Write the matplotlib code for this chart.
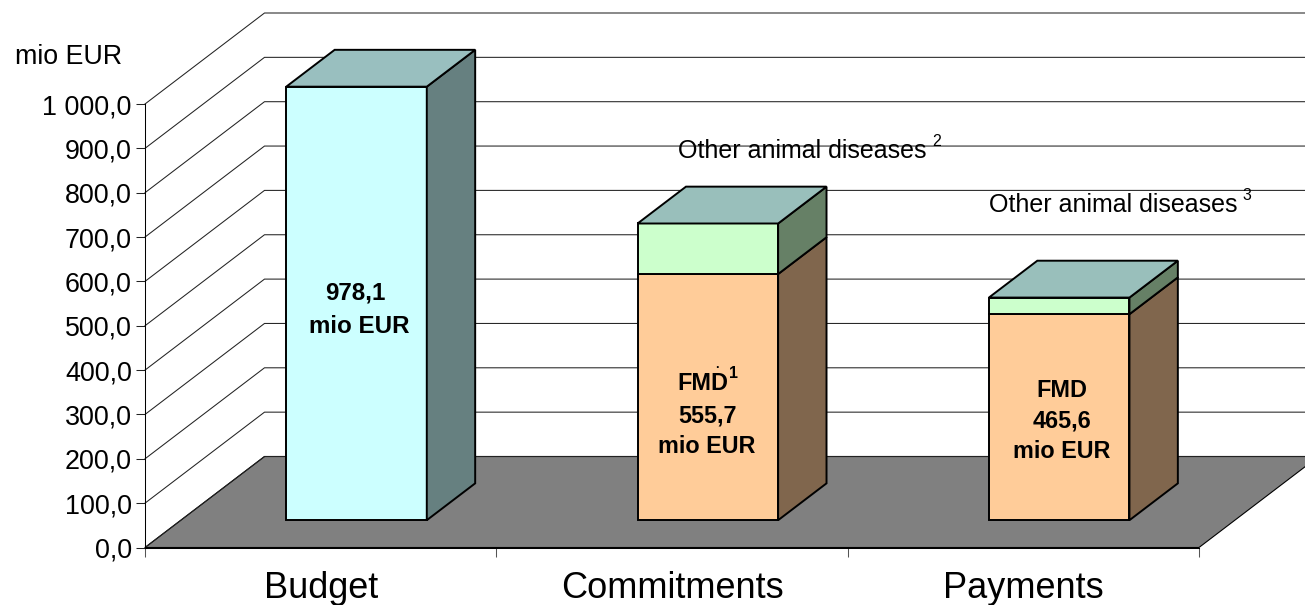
import matplotlib
matplotlib.use("Agg")
import matplotlib.pyplot as plt
from matplotlib.patches import Polygon

plt.rcParams['font.family'] = ['Liberation Sans', 'DejaVu Sans']

categories = ["Budget", "Commitments", "Payments"]
budget_total = [977.5, 0, 0]
fmd_values = [0, 555.0, 464.5]
other_values = [0, 114.0, 37.5]
y_ticks = [0, 100, 200, 300, 400, 500, 600, 700, 800, 900, 1000]
y_labels = ["0,0", "100,0", "200,0", "300,0", "400,0", "500,0", "600,0", "700,0", "800,0", "900,0", "1 000,0"]

W, H = 1305, 605
L, R, T, B = 145, 1199, 104, 547.5
DX_PX, DY_PX = 119.5, 91.0
BAR_W = 0.40
D0, D1 = 0.30, 0.705

colors = {
    "budget": ("#CCFFFF", "#99BFBF", "#668080"),
    "fmd": ("#FFCC99", None, "#80664D"),
    "other": ("#CCFFCC", "#99BFBB", "#668066"),
}

fig = plt.figure(figsize=(W / 100, H / 100), dpi=100, facecolor="white")
ax = fig.add_axes([L / W, 1 - B / H, (R - L) / W, (B - T) / H])
ax.set_xlim(0, 3)
ax.set_ylim(0, 1000)
ax.patch.set_visible(False)
for s in ("top", "right"):
    ax.spines[s].set_visible(False)
for s in ("left", "bottom"):
    ax.spines[s].set_linewidth(0.75)
    ax.spines[s].set_zorder(20)

sx = DX_PX / ((R - L) / 3)
sy = DY_PX / ((B - T) / 1000)


def proj(u, v, d=0.0):
    return (u + d * sx, v + d * sy)


# floor
ax.add_patch(Polygon([proj(0, 0), proj(3, 0), proj(3, 0, 1), proj(0, 0, 1)], closed=True,
                     facecolor="#808080", edgecolor="black", linewidth=0.8, clip_on=False, zorder=1))
# gridlines: left wall and back wall
for v in y_ticks:
    pts = [proj(0, v), proj(0, v, 1), proj(3, v, 1)]
    ax.plot([p[0] for p in pts], [p[1] for p in pts], color="#222222", lw=0.75,
            clip_on=False, zorder=2 if v else 1.5)


def face(pts, color, z):
    ax.add_patch(Polygon(pts, closed=True, facecolor=color, edgecolor="black", linewidth=1.4,
                         joinstyle="miter", clip_on=False, zorder=z))


def box(center, lo, hi, front, side, z):
    a = center - BAR_W / 2
    b = center + BAR_W / 2
    face([proj(a, lo, D0), proj(b, lo, D0), proj(b, hi, D0), proj(a, hi, D0)], front, z)
    face([proj(b, lo, D0), proj(b, lo, D1), proj(b, hi, D1), proj(b, hi, D0)], side, z)


def top(center, hi, color, z):
    a = center - BAR_W / 2
    b = center + BAR_W / 2
    face([proj(a, hi, D0), proj(b, hi, D0), proj(b, hi, D1), proj(a, hi, D1)], color, z)


centers = [i + 0.5 for i in range(len(categories))]
for c, bud, fmd, oth in zip(centers, budget_total, fmd_values, other_values):
    if bud:
        box(c, 0, bud, colors["budget"][0], colors["budget"][2], 5)
        top(c, bud, colors["budget"][1], 6)
    else:
        box(c, 0, fmd, colors["fmd"][0], colors["fmd"][2], 5)
        box(c, fmd, fmd + oth, colors["other"][0], colors["other"][2], 6)
        top(c, fmd + oth, colors["other"][1], 7)

# axes ticks and labels
ax.set_yticks(y_ticks)
ax.set_yticklabels(y_labels, fontsize=19.4, va="center_baseline")
ax.tick_params(axis="y", length=6.5, width=0.75, pad=3, color="#222222")
ax.set_xticks([0, 1, 2, 3])
ax.set_xticklabels([])
ax.tick_params(axis="x", which="major", length=6.5, width=0.75, color="#555555")
ax.set_xticks(centers, minor=True)
ax.set_xticklabels(categories, minor=True, fontsize=26)
ax.tick_params(axis="x", which="minor", length=0, pad=16.7)


def txt(x, y, s, **kw):
    fig.text(x / W, 1 - y / H, s, ha=kw.pop("ha", "center"), va=kw.pop("va", "center"), zorder=30, **kw)


txt(69, 56.5, "mio EUR", fontsize=19.3)
txt(355, 293, "978,1", fontsize=17.4, fontweight="bold")
txt(359, 326, "mio EUR", fontsize=17.4, fontweight="bold")
txt(702.5, 383, "FMD", fontsize=16.8, fontweight="bold")
txt(733, 374, "1", fontsize=11.5, fontweight="bold")
txt(717, 365, ".", fontsize=9, fontweight="bold")
txt(707, 431, "555,7\nmio EUR", fontsize=16.8, fontweight="bold", linespacing=1.41)
txt(1062, 421, "FMD\n465,6\nmio EUR", fontsize=16.8, fontweight="bold", linespacing=1.41)
txt(678, 151, "Other animal diseases", fontsize=18, ha="left")
txt(937, 141, "2", fontsize=11.5)
txt(989, 205.5, "Other animal diseases", fontsize=18, ha="left")
txt(1247, 196, "3", fontsize=11.5)

fig.savefig("out.png", dpi=100, facecolor="white")
